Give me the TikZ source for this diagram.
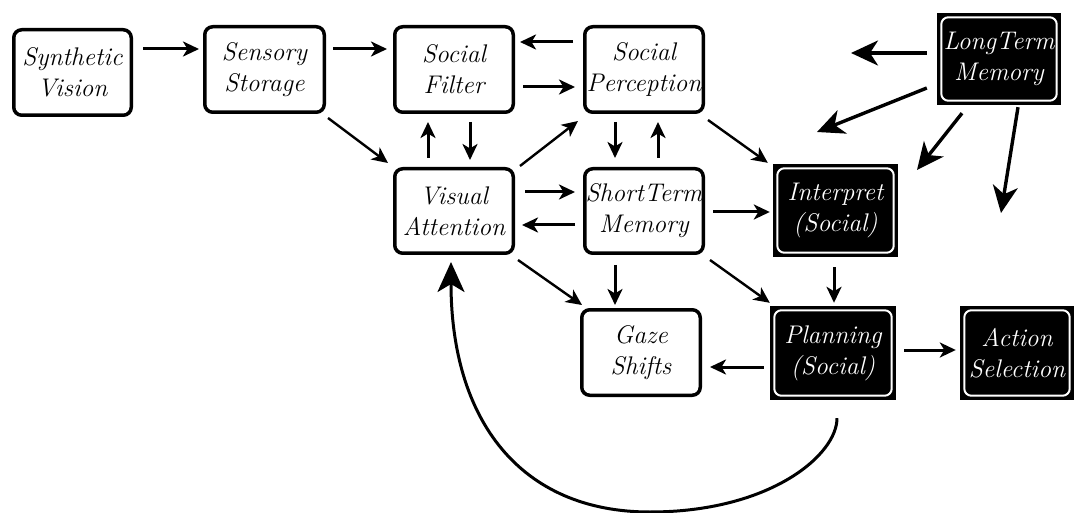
\documentclass[tikz,border=0pt]{standalone}
\usetikzlibrary{arrows.meta,calc}
\newcommand{\lbl}{\fontsize{25.5}{31}\selectfont\itshape}
\begin{document}
\begin{tikzpicture}[x=1pt,y=-1pt,
  box/.style={draw, line width=3.5pt, rounded corners=8pt, fill=white, align=center, inner sep=0pt, font=\lbl},
  dbox/.style={fill=black, text=white, align=center, inner sep=0pt, font=\lbl},
  arr/.style={-{Stealth[length=16pt,width=15pt,inset=4.5pt]}, line width=3pt},
  thin/.style={-{Stealth[length=16pt,width=15pt,inset=4.5pt]}, line width=2.4pt},
  big/.style={-{Stealth[length=27pt,width=25pt,inset=8pt]}, line width=3.4pt}]
\useasboundingbox (0,0) rectangle (1074,513);
% plain boxes
\node[box, minimum width=117.5pt, minimum height=85.5pt] (sv) at (72.5,72.5) {Synthetic\\Vision};
\node[box, minimum width=119.5pt, minimum height=85.5pt] (ss) at (264.5,69.5) {Sensory\\Storage};
\node[box, minimum width=118.5pt, minimum height=85.5pt] (sf) at (454,69.5) {Social\\Filter};
\node[box, minimum width=118.5pt, minimum height=85.5pt] (sp) at (644,69.5) {Social\\Perception};
\node[box, minimum width=118.5pt, minimum height=84.5pt] (va) at (454,211) {Visual\\Attention};
\node[box, minimum width=118.5pt, minimum height=84.5pt] (stm) at (644,211) {ShortTerm\\Memory};
\node[box, minimum width=118.5pt, minimum height=85.5pt] (gz) at (641,352.5) {Gaze\\Shifts};
% dark boxes
\node[dbox, minimum width=124pt, minimum height=92pt] (ltm) at (999,59) {};
\node[dbox, minimum width=125pt, minimum height=93pt] (ip) at (835.5,210.5) {};
\node[dbox, minimum width=126pt, minimum height=94pt] (pl) at (833,353) {};
\node[dbox, minimum width=114pt, minimum height=94pt] (as) at (1017,353) {};
\foreach \n in {ltm,ip,pl,as}
  \draw[white, line width=2pt, rounded corners=7pt]
    ([shift={(4.5pt,4.5pt)}]\n.south west) rectangle ([shift={(-4.5pt,-4.5pt)}]\n.north east);
\node[font=\lbl, text=white, align=center] at (ltm) {LongTerm\\Memory};
\node[font=\lbl, text=white, align=center] at (ip) {Interpret\\(Social)};
\node[font=\lbl, text=white, align=center] at (pl) {Planning\\(Social)};
\node[font=\lbl, text=white, align=center] at (as) {Action\\Selection};
% arrows
\draw[arr] ([xshift=10pt,yshift=23.5pt]sv.east) -- ([xshift=-4pt,yshift=20.5pt]ss.west);
\draw[arr] ([xshift=7pt,yshift=20.5pt]ss.east) -- ([xshift=-6pt,yshift=20.5pt]sf.west);
\draw[arr] ([xshift=-10pt,yshift=27.5pt]sp.west) -- ([xshift=5pt,yshift=27.5pt]sf.east);
\draw[arr] ([xshift=8pt,yshift=-17.5pt]sf.east) -- ([xshift=-8pt,yshift=-17.5pt]sp.west);
\draw[arr] ([xshift=-26pt,yshift=9pt]va.north) -- ([xshift=-26pt,yshift=-8pt]sf.south);
\draw[arr] ([xshift=16pt,yshift=-8pt]sf.south) -- ([xshift=16pt,yshift=7pt]va.north);
\draw[thin] ([xshift=2pt,yshift=-4pt]ss.south east) -- ([xshift=-5pt,yshift=4pt]va.north west);
\draw[thin] ([xshift=5pt,yshift=1pt]va.north east) -- ([xshift=-5pt,yshift=-7pt]sp.south west);
\draw[arr] ([xshift=10pt,yshift=19pt]va.east) -- ([xshift=-8pt,yshift=19pt]stm.west);
\draw[arr] ([xshift=-8pt,yshift=-14pt]stm.west) -- ([xshift=7pt,yshift=-14pt]va.east);
\draw[arr] ([xshift=-29pt,yshift=-8pt]sp.south) -- ([xshift=-29pt,yshift=9pt]stm.north);
\draw[arr] ([xshift=14pt,yshift=9pt]stm.north) -- ([xshift=14pt,yshift=-8pt]sp.south);
\draw[thin] ([xshift=3pt,yshift=-6pt]sp.south east) -- ([xshift=-5pt,yshift=1pt]ip.north west);
\draw[arr] ([xshift=8pt,yshift=-1pt]stm.east) -- ([xshift=-3pt,yshift=-1.5pt]ip.west);
\draw[thin] ([xshift=5pt,yshift=-5pt]stm.south east) -- ([xshift=0pt,yshift=3pt]pl.north west);
\draw[arr] ([xshift=-1.5pt,yshift=-10pt]ip.south) -- ([xshift=1pt,yshift=3pt]pl.north);
\draw[arr] ([xshift=8pt,yshift=3pt]pl.east) -- ([xshift=-4pt,yshift=3pt]as.west);
\draw[arr] ([xshift=-6pt,yshift=-14pt]pl.west) -- ([xshift=8pt,yshift=-14.5pt]gz.east);
\draw[thin] ([xshift=3pt,yshift=-5pt]va.south east) -- ([xshift=2pt,yshift=3pt]gz.north west);
\draw[arr] ([xshift=-29pt,yshift=-10pt]stm.south) -- ([xshift=-26pt,yshift=3pt]gz.north);
% long-term memory arrows
\coordinate (e1) at (851,53);
\coordinate (e2) at (817,132);
\coordinate (e3) at (917,170);
\coordinate (e4) at (1001,213);
\draw[big] ([xshift=-10pt,yshift=6pt]ltm.west) -- (e1);
\draw[big] ([xshift=-10pt,yshift=-29pt]ltm.west) -- (e2);
\draw[big] ([xshift=-37pt,yshift=-8pt]ltm.south) -- (e3);
\draw[big] ([xshift=19pt,yshift=-2pt]ltm.south) -- (e4);
% feedback curve
\coordinate (cb) at (650,512);
\draw[-{Stealth[length=30pt,width=27pt,inset=8pt]}, line width=3pt]
  ([xshift=4pt,yshift=-18pt]pl.south) .. controls (837,455) and (770,512) .. (cb)
  .. controls (520,512) and (451,420) .. ([xshift=-3pt,yshift=-7pt]va.south);
\end{tikzpicture}
\end{document}
